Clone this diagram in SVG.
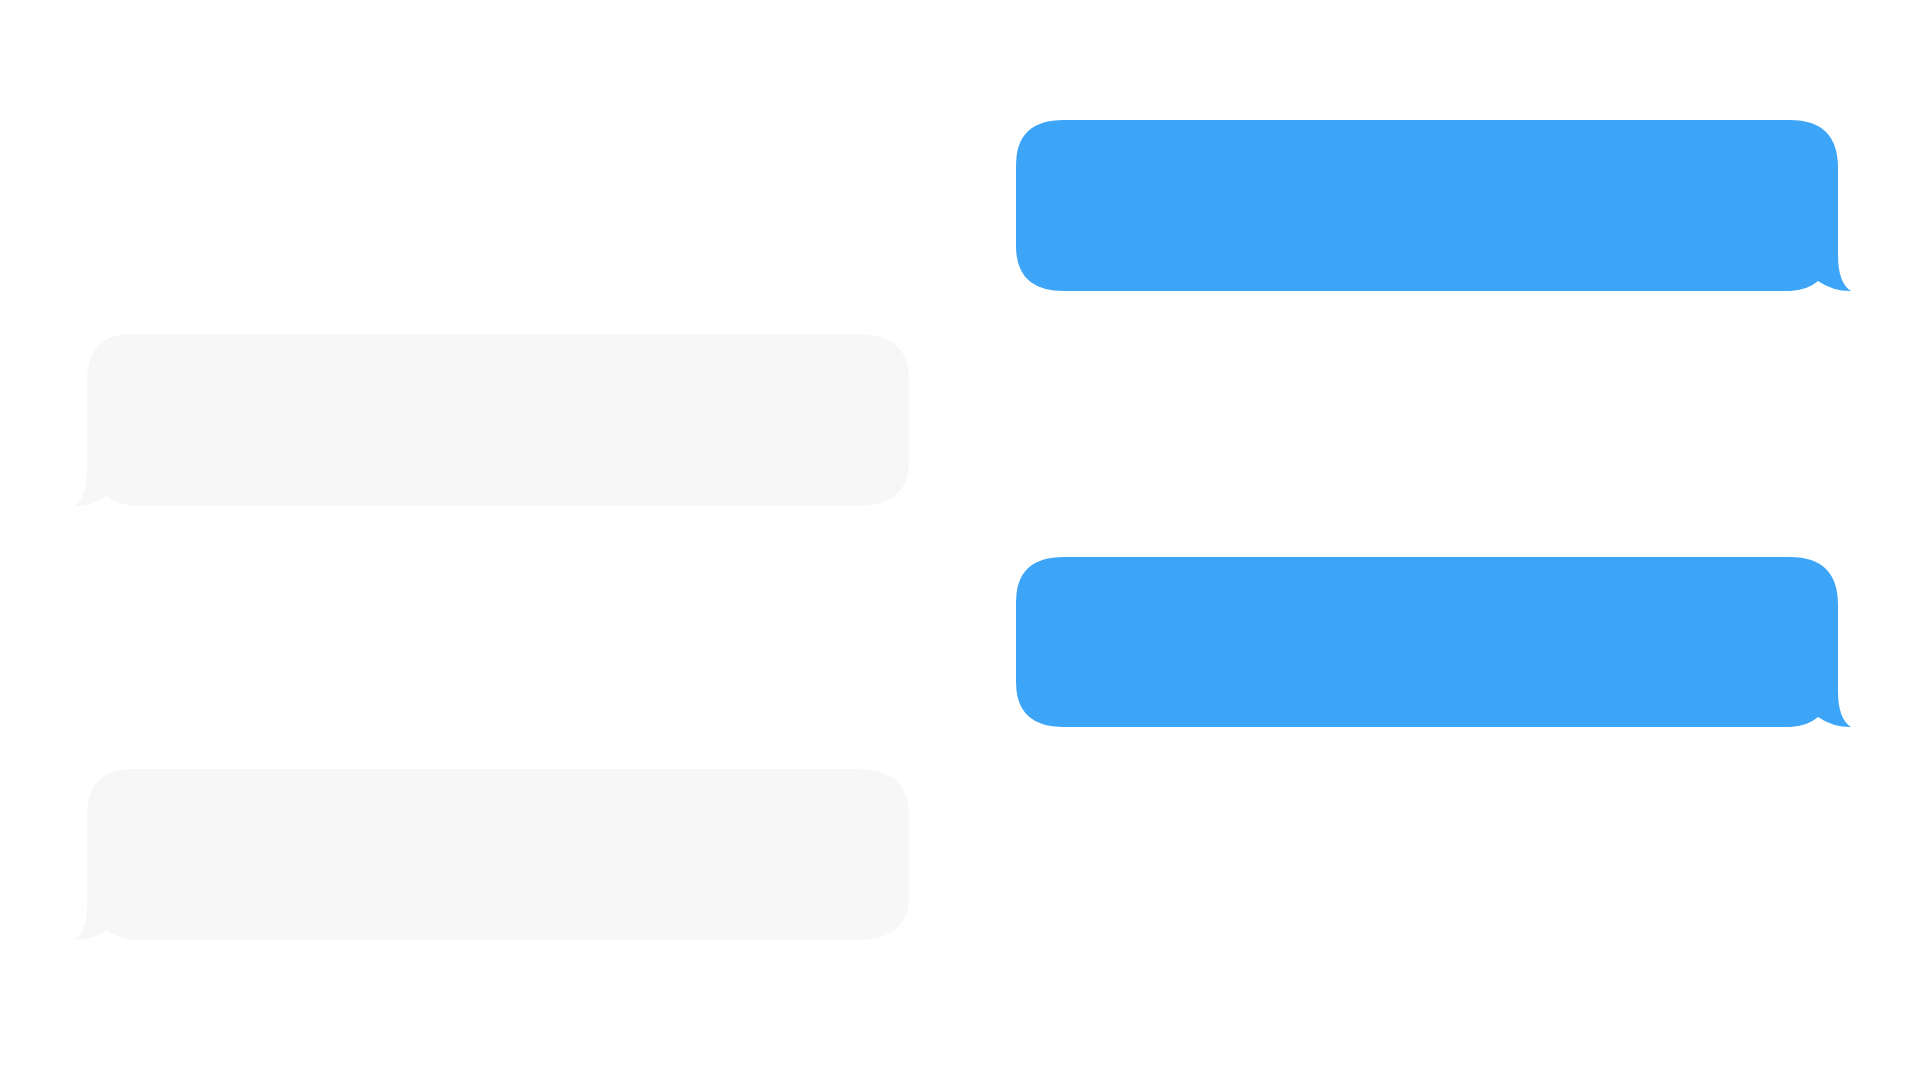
<svg xmlns="http://www.w3.org/2000/svg" width="1920" height="1080" viewBox="0 0 1920 1080">
<style>.b{fill:#3DA5F7}.g{fill:#F7F7F7}</style>
<rect width="1920" height="1080" fill="#fff"/>
<g id="msg1"><path class="b" d="M1064,120 H1790 Q1838,120 1838,168 V255 Q1838,283 1851,291 Q1832,291 1818,281 Q1808,290 1790,291 H1064 Q1016,291 1016,246 V165 Q1016,120 1064,120 Z"/></g>
<g id="msg2"><path class="g" d="M857,334 H131 Q87,334 87,382 V469 Q87,497 74,506 Q93,506 107,496 Q117,505 135,506 H857 Q909,506 909,461 V379 Q909,334 857,334 Z"/></g>
<g id="msg3"><path class="b" d="M1064,557 H1790 Q1838,557 1838,605 V691 Q1838,719 1851,727 Q1832,727 1818,717 Q1808,726 1790,727 H1064 Q1016,727 1016,682 V602 Q1016,557 1064,557 Z"/></g>
<g id="msg4"><path class="g" d="M857,769 H131 Q87,769 87,817 V904 Q87,932 74,940 Q93,940 107,930 Q117,939 135,940 H857 Q909,940 909,895 V814 Q909,769 857,769 Z"/></g>
<g id="connectors"/>
</svg>
